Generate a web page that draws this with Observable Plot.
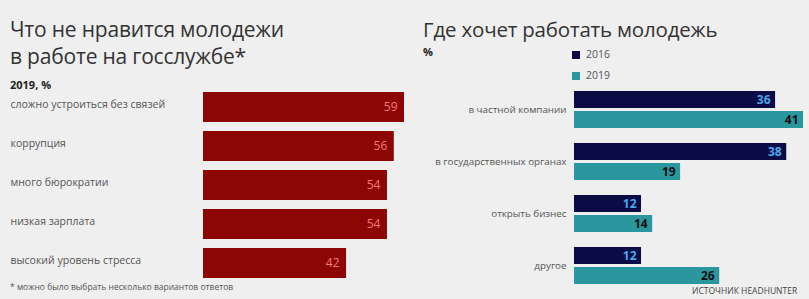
<!DOCTYPE html>
<html><head><meta charset="utf-8">
<script src="https://cdn.jsdelivr.net/npm/d3@7"></script>
<script src="https://cdn.jsdelivr.net/npm/@observablehq/plot@0.6"></script>
<style>
body{margin:0;background:#efefef;font-family:"Open Sans",sans-serif;}
#wrap{position:relative;width:809px;height:299px;overflow:hidden;background:#efefef;}
.abs{position:absolute;white-space:nowrap;}
.title{font-size:20.5px;color:#333;line-height:27px;font-weight:400;letter-spacing:-0.2px;}
.sub{font-size:11px;font-weight:700;color:#222;}
.note{font-size:8.5px;color:#555;}
.leg{font-size:10.5px;color:#555;}
.sw{position:absolute;width:8px;height:8px;}
</style></head>
<body><div id="wrap">
<div id="left" class="abs" style="left:0;top:0"></div>
<div id="right" class="abs" style="left:410px;top:0"></div>
<div class="abs title" style="left:10px;top:16px;font-size:21px">Что не нравится молодежи<br>в работе на госслужбе*</div>
<div class="abs sub" style="left:10px;top:77px">2019, %</div>
<div class="abs note" style="left:10px;top:281px">* можно было выбрать несколько вариантов ответов</div>
<div class="abs title" style="left:423px;top:16px">Где хочет работать молодежь</div>
<div class="abs sub" style="left:423px;top:44px">%</div>
<div class="sw" style="left:572px;top:51px;background:#0b0b45"></div>
<div class="abs leg" style="left:586px;top:47px">2016</div>
<div class="sw" style="left:572px;top:72px;background:#2a979e"></div>
<div class="abs leg" style="left:586px;top:68px">2019</div>
<div class="abs note" style="left:692px;top:285px;font-size:8.5px;color:#444">ИСТОЧНИК HEADHUNTER</div>
</div>
<script>
const dislikeCats = ["сложно устроиться без связей","коррупция","много бюрократии","низкая зарплата","высокий уровень стресса"];
const dislikeVals = [59,56,54,54,42];
const workCats = ["в частной компании","в государственных органах","открыть бизнес","другое"];
const years = ["2016","2019"];
const work2016 = [36,38,12,12];
const work2019 = [41,19,14,26];

const leftData = dislikeCats.map((c,i)=>({cat:c,v:dislikeVals[i]}));
const left = Plot.plot({
  width:410,height:299,marginLeft:203,marginRight:6,marginTop:81.5,marginBottom:10.5,
  style:{background:"transparent",fontFamily:"Open Sans, sans-serif"},
  x:{domain:[0,59],axis:null},
  y:{domain:dislikeCats,padding:0.24,axis:null},
  marks:[
    Plot.barX(leftData,{x:"v",y:"cat",fill:"#8c0606"}),
    Plot.text(leftData,{x:0,y:"cat",text:"cat",textAnchor:"start",dx:-193,dy:-3,fontSize:10.5,fill:"#555"}),
    Plot.text(leftData,{x:"v",y:"cat",text:d=>String(d.v),textAnchor:"end",dx:-7,fontSize:12,fill:"#f07a7a"})
  ]
});
document.getElementById("left").appendChild(left);

const rightData = [];
workCats.forEach((c,i)=>{
  rightData.push({cat:c,year:years[0],v:work2016[i]});
  rightData.push({cat:c,year:years[1],v:work2019[i]});
});
const right = Plot.plot({
  width:399,height:299,marginLeft:164,marginRight:6,marginTop:89,marginBottom:13,
  style:{background:"transparent",fontFamily:"Open Sans, sans-serif"},
  x:{domain:[0,41],axis:null},
  y:{domain:years,paddingInner:0.14,paddingOuter:0,axis:null},
  fy:{domain:workCats,paddingInner:0.256,paddingOuter:0,label:null},
  color:{domain:years,range:["#0b0b45","#2a979e"]},
  marks:[
    Plot.axisFy({anchor:"left",label:null,tickSize:0,tickPadding:8,fontSize:9.8,fill:"#555"}),
    Plot.barX(rightData,{x:"v",y:"year",fy:"cat",fill:"year"}),
    Plot.text(rightData,{x:"v",y:"year",fy:"cat",text:d=>String(d.v),textAnchor:"end",dx:-5,fontSize:12,fontWeight:"bold",fill:d=>d.year==="2016"?"#4aa6ea":"#111"})
  ]
});
document.getElementById("right").appendChild(right);
</script>
</body></html>
